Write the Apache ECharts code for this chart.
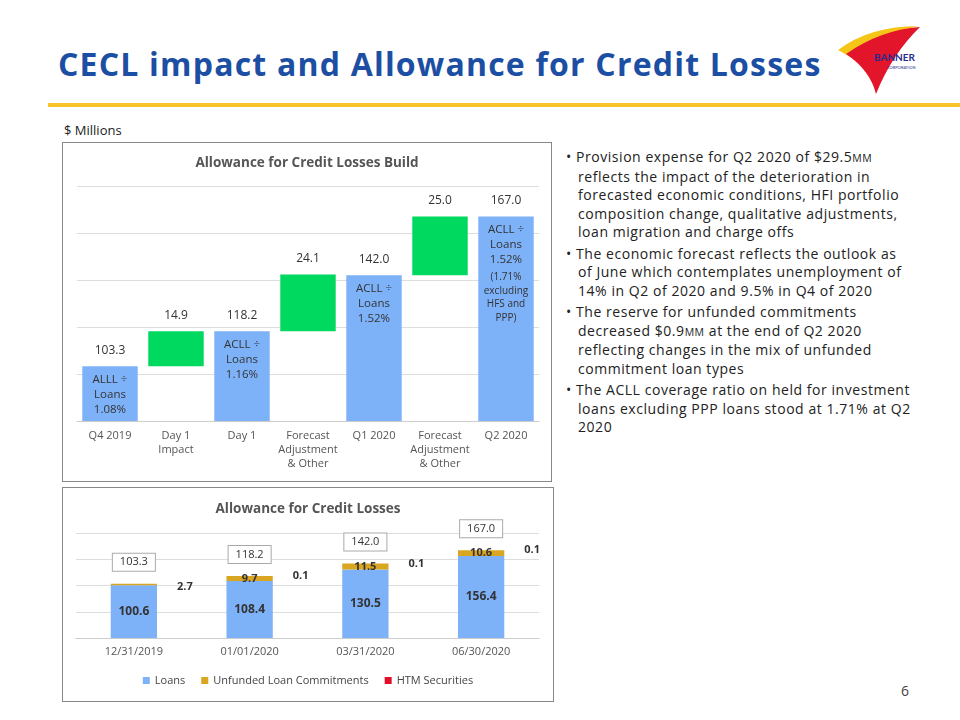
<!DOCTYPE html>
<html><head><meta charset="utf-8">
<script src="https://cdn.jsdelivr.net/npm/echarts@6/dist/echarts.min.js"></script>
<style>
body{margin:0;width:960px;height:720px;background:#fff;font-family:"Open Sans",sans-serif;position:relative;overflow:hidden}
#title{position:absolute;left:58px;top:42px;font-size:32px;font-weight:bold;color:#1c4fa3;letter-spacing:1.2px}
#rule{position:absolute;left:48px;top:103px;width:912px;height:4px;background:#f7c52a}
#units{position:absolute;left:64px;top:121px;font-size:13px;color:#222}
.box{position:absolute;border:1px solid #888;background:#fff}
#c1{left:62px;top:142px;width:488px;height:338px}
#c2{left:62px;top:487px;width:490px;height:213px}
#text{position:absolute;left:566px;top:148px;width:345px;font-size:14px;line-height:18.5px;color:#222;letter-spacing:0.55px}
#text div{padding-left:12px;text-indent:-12px;margin-bottom:3px}
#page{position:absolute;left:901px;top:681px;font-size:14px;color:#444}
#logo{position:absolute;left:830px;top:24px}
</style></head><body>
<div id="title">CECL impact and Allowance for Credit Losses</div>
<div id="rule"></div>
<svg id="logo" width="110" height="72" viewBox="0 0 110 72">
<path d="M8 26 Q40 2 88 2 Q46 12 22 34 Z" fill="#f5c518"/>
<path d="M16 30 Q50 6 90 3 Q62 30 46 70 Q40 46 16 30 Z" fill="#e3152a"/>
<text x="44" y="37" font-size="10" font-weight="bold" fill="#2a2a8a" font-family="Lato">BANNER</text>
<text x="57" y="45" font-size="4" fill="#2a2a8a" font-family="Lato">CORPORATION</text>
</svg>
<div id="units">$ Millions</div>
<div class="box" id="c1"></div>
<div class="box" id="c2"></div>
<div id="text">
<div>• Provision expense for Q2 2020 of $29.5<span style="font-size:10.5px">MM</span> reflects the impact of the deterioration in forecasted economic conditions, HFI portfolio composition change, qualitative adjustments, loan migration and charge offs</div>
<div>• The economic forecast reflects the outlook as of June which contemplates unemployment of 14% in Q2 of 2020 and 9.5% in Q4 of 2020</div>
<div>• The reserve for unfunded commitments decreased $0.9<span style="font-size:10.5px">MM</span> at the end of Q2 2020 reflecting changes in the mix of unfunded commitment loan types</div>
<div>• The ACLL coverage ratio on held for investment loans excluding PPP loans stood at 1.71% at Q2 2020</div>
</div>
<div id="page">6</div>
<script>
// 瀑布图数据
const buildCategories = ["Q4 2019", "Day 1\nImpact", "Day 1", "Forecast\nAdjustment\n& Other", "Q1 2020", "Forecast\nAdjustment\n& Other", "Q2 2020"];
const buildValues = [103.3, 14.9, 118.2, 24.1, 142.0, 25.0, 167.0];
const buildIsTotal = [true, false, true, false, true, false, true];
const buildNotes = ["ALLL ÷\nLoans\n1.08%", "", "ACLL ÷\nLoans\n1.16%", "", "ACLL ÷\nLoans\n1.52%", "", "ACLL ÷\nLoans\n1.52%\n{s|(1.71%\nexcluding\nHFS and\nPPP)}"];
// 堆叠图数据
const dates = ["12/31/2019", "01/01/2020", "03/31/2020", "06/30/2020"];
const loans = [100.6, 108.4, 130.5, 156.4];
const unfunded = [2.7, 9.7, 11.5, 10.6];
const htm = [0, 0.1, 0.1, 0.1];
const totals = [103.3, 118.2, 142.0, 167.0];

let base = [], shown = [], last = 0;
for (let i = 0; i < buildValues.length; i++) {
    if (buildIsTotal[i]) { base.push(0); last = buildValues[i]; }
    else { base.push(last); }
    shown.push({
        value: buildValues[i],
        itemStyle: { color: buildIsTotal[i] ? "#7eb2f8" : "#00d95f" },
        label: { show: true, position: "top", distance: 10, color: "#333", fontSize: 12, formatter: buildValues[i].toFixed(1) }
    });
}
let chart1 = echarts.init(document.getElementById("c1"));
chart1.setOption({
    animation: false,
    textStyle: { fontFamily: "Open Sans" },
    title: { text: "Allowance for Credit Losses Build", left: "center", top: 8, textStyle: { fontSize: 13.5, fontWeight: "bold", color: "#555" } },
    grid: { left: 14, right: 12, top: 43, bottom: 60 },
    xAxis: { type: "category", data: buildCategories, axisTick: { show: false }, axisLine: { lineStyle: { color: "#ccc" } },
        axisLabel: { color: "#555", fontSize: 11, lineHeight: 14, interval: 0 } },
    yAxis: { type: "value", min: 80, max: 180, interval: 20, axisLabel: { show: false }, splitLine: { lineStyle: { color: "#ddd" } } },
    series: [
        { type: "bar", stack: "w", data: base, itemStyle: { color: "transparent" }, barWidth: "84%", silent: true },
        { type: "bar", stack: "w", data: shown, barWidth: "84%" },
        { type: "bar", barGap: "-100%", barWidth: "84%", data: buildValues.map((v, i) => ({ value: buildNotes[i] ? v : 0 })),
          itemStyle: { color: "transparent" }, z: 5,
          label: { show: true, position: "insideTop", distance: 6, color: "#333", fontSize: 11.5, lineHeight: 15,
            formatter: p => buildNotes[p.dataIndex], rich: { s: { fontSize: 10, lineHeight: 13.5, color: "#333", padding: [6, 0, 0, 0] } } } }
    ]
});

let chart2 = echarts.init(document.getElementById("c2"));
chart2.setOption({
    animation: false,
    textStyle: { fontFamily: "Open Sans" },
    title: { text: "Allowance for Credit Losses", left: "center", top: 9, textStyle: { fontSize: 13.5, fontWeight: "bold", color: "#555" } },
    legend: { bottom: 10, itemWidth: 7, itemHeight: 7, icon: "rect", itemGap: 16, textStyle: { color: "#444", fontSize: 11 },
        data: ["Loans", "Unfunded Loan Commitments", "HTM Securities"] },
    grid: { left: 13, right: 14, top: 45, bottom: 63 },
    xAxis: { type: "category", data: dates, axisTick: { show: false }, axisLine: { lineStyle: { color: "#ccc" } },
        axisLabel: { color: "#555", fontSize: 11 } },
    yAxis: { type: "value", min: 0, max: 200, interval: 50, axisLabel: { show: false }, splitLine: { lineStyle: { color: "#ddd" } } },
    series: [
        { name: "Loans", type: "bar", stack: "a", barWidth: "40%", data: loans, itemStyle: { color: "#7eb2f8" },
          label: { show: true, color: "#333", fontWeight: "bold", fontSize: 12, formatter: p => p.value.toFixed(1) } },
        { name: "Unfunded Loan Commitments", type: "bar", stack: "a", itemStyle: { color: "#daa520" },
          data: unfunded.map((v, i) => i === 0
            ? { value: v, label: { position: "right", distance: 20, offset: [0, 2] } }
            : { value: v }),
          label: { show: true, position: "inside", color: "#333", fontWeight: "bold", fontSize: 11, formatter: p => p.value.toFixed(1) } },
        { name: "HTM Securities", type: "bar", stack: "a", itemStyle: { color: "#e0102a" },
          data: htm.map(v => ({ value: v, label: { show: v > 0 } })),
          label: { position: "right", distance: 20, color: "#333", fontWeight: "bold", fontSize: 11, formatter: p => p.value.toFixed(1) } },
        { name: "Total", type: "scatter", data: totals, symbol: "circle", symbolSize: 2, itemStyle: { color: "rgba(255,255,255,0)" }, z: 10,
          label: { show: true, position: "top", distance: 12, color: "#333", fontSize: 11, opacity: 1,
            backgroundColor: "#fff", borderColor: "#aaa", borderWidth: 1, padding: [3, 7],
            formatter: p => p.value.toFixed(1) } }
    ]
});
</script>
</body></html>
